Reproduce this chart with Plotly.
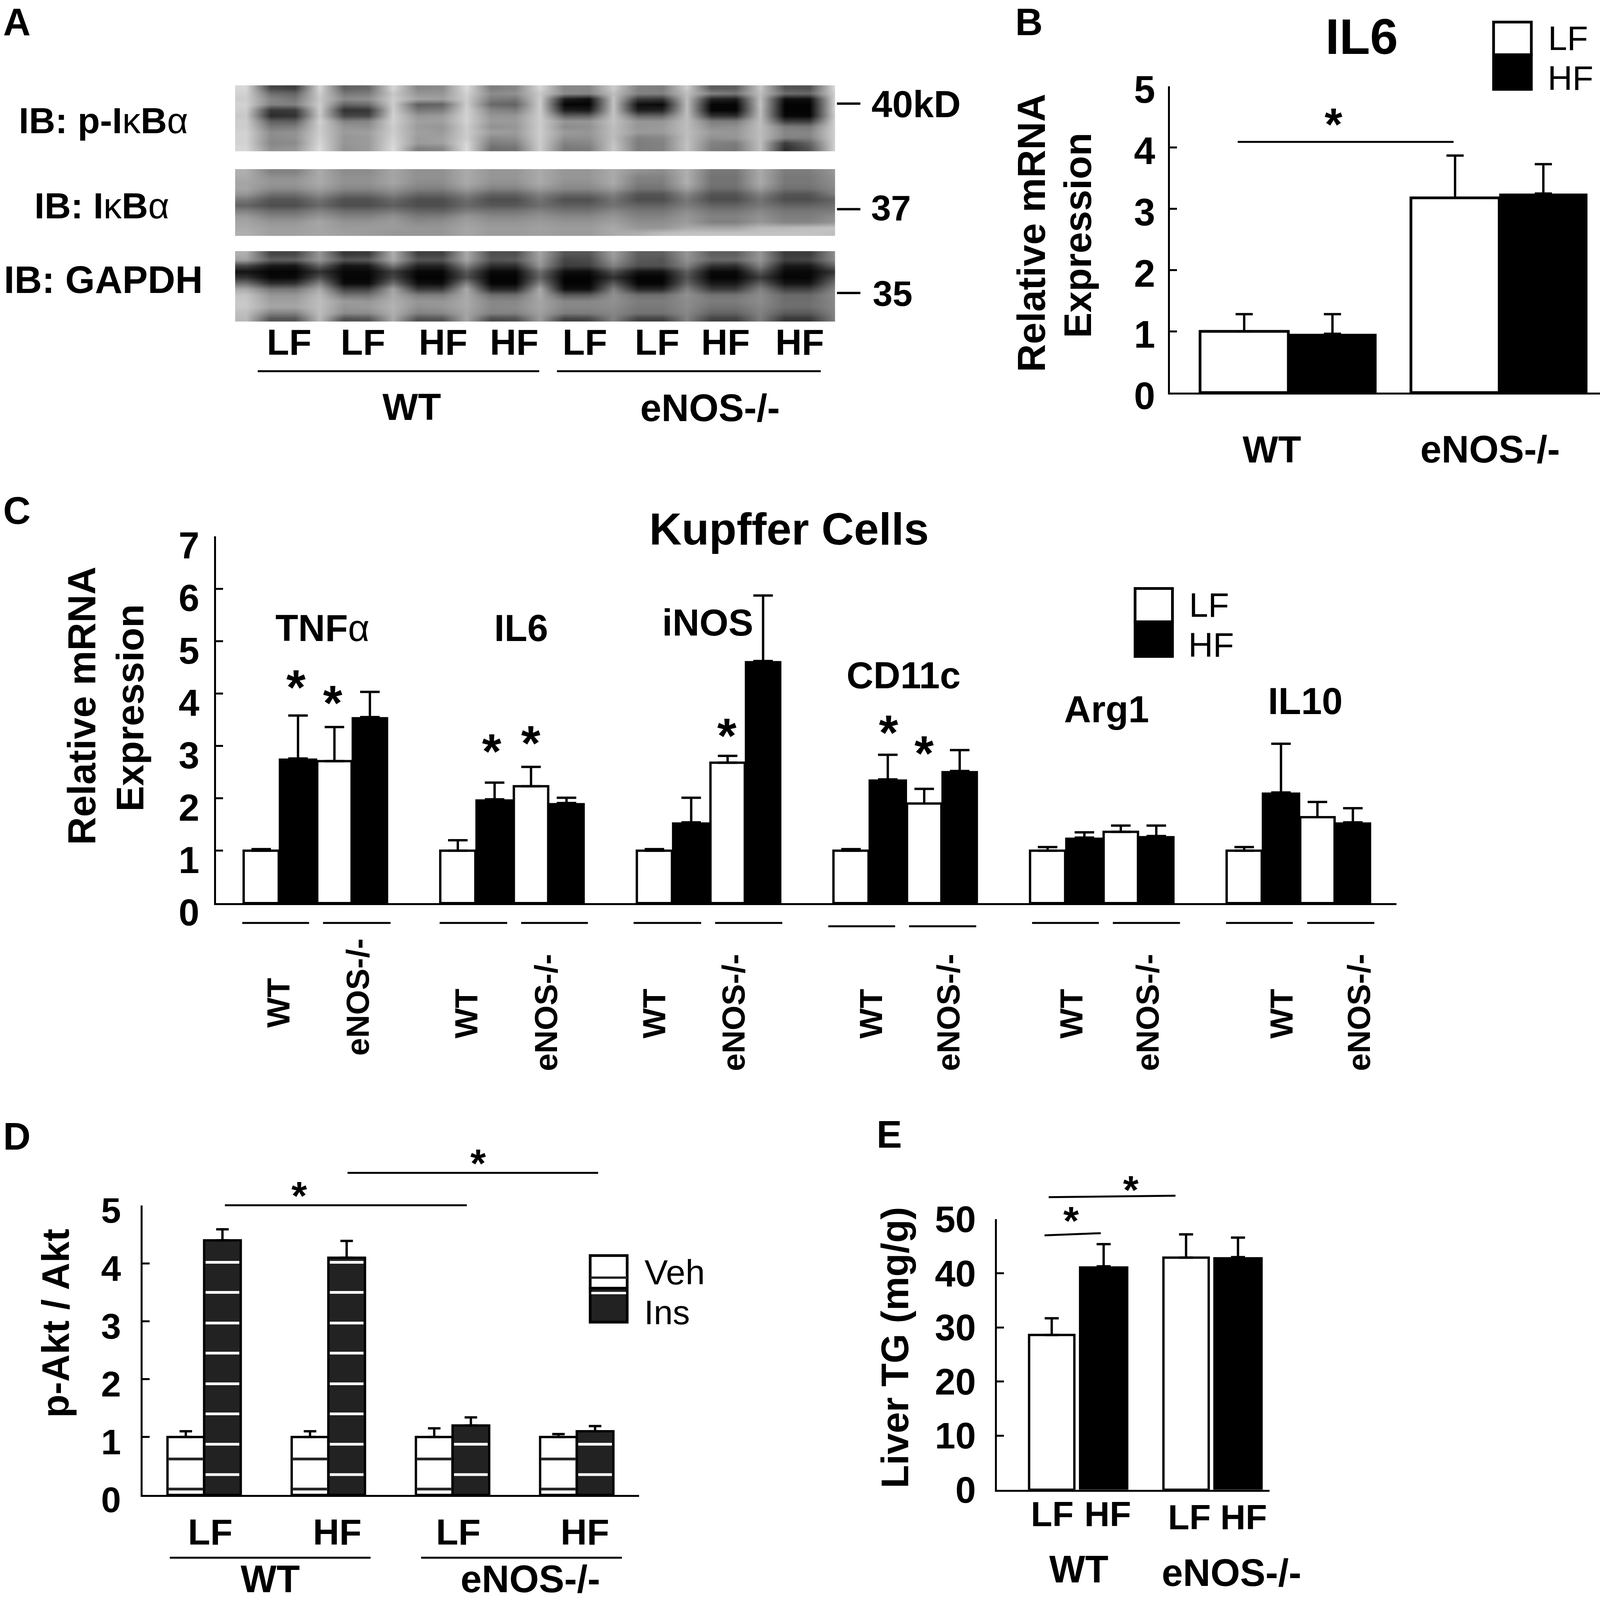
import plotly.graph_objects as go

W, H = 4240, 4353
FONT = "Liberation Sans"
F = 0.975  # text scale

# ---------------- data ----------------
# Panel A: blot grey levels (0 black, 255 white), one row per image band,
# columns are gap, lane, lane, gap ...
blot_pikb = [
 [215,70,60,215,95,105,215,135,140,220,125,135,215,135,135,205,130,125,205,90,95,200,85,80,215],
 [210,110,100,205,120,125,200,150,150,210,140,145,200,140,135,190,130,130,190,130,120,190,110,105,205],
 [205,135,120,200,140,145,205,165,160,205,125,120,205,30,15,195,60,55,190,35,30,190,15,15,205],
 [210,130,130,205,100,110,205,95,100,205,105,100,205,5,5,195,15,10,190,5,5,195,3,3,205],
 [205,55,60,205,50,55,205,120,125,210,135,125,205,30,25,195,30,35,190,5,5,190,3,3,205],
 [200,45,50,200,70,70,210,150,155,210,150,150,205,95,95,195,100,100,190,50,45,190,8,5,200],
 [205,95,95,210,130,135,210,160,160,210,155,155,205,150,150,195,150,150,190,125,125,190,60,60,205],
 [205,120,125,205,150,145,205,155,150,205,145,150,205,140,145,190,150,155,190,140,145,190,125,120,205],
 [210,140,145,205,155,160,205,160,155,205,160,155,205,155,150,190,155,155,190,155,150,190,135,135,205],
 [210,140,145,210,150,155,210,155,160,205,140,145,205,145,145,190,130,135,190,145,150,190,130,130,205],
 [210,135,140,215,150,155,215,155,160,215,125,130,205,130,135,195,125,130,195,130,125,190,60,100,205],
 [215,145,150,220,145,155,220,125,135,220,110,115,205,120,125,200,125,130,195,125,120,190,45,85,205],
]
blot_ikb = [
 [175,130,130,170,140,140,165,145,145,170,150,150,170,150,150,170,145,140,175,120,120,170,125,125,150],
 [170,145,145,170,145,145,165,145,145,170,150,150,170,150,150,170,130,130,175,115,115,170,120,120,145],
 [165,150,150,170,145,145,165,140,140,170,145,145,170,145,145,170,125,125,175,115,115,170,120,120,140],
 [165,140,140,160,135,135,150,128,128,155,130,130,155,135,135,155,115,115,160,108,108,155,112,112,135],
 [150,112,112,140,108,108,130,102,102,130,98,98,130,105,105,130,85,85,135,84,84,130,85,85,125],
 [120,85,85,115,80,80,105,78,78,110,78,78,115,80,80,115,78,78,120,78,78,115,78,78,100],
 [100,78,78,105,78,78,95,78,78,105,88,88,110,95,95,115,100,100,125,100,100,120,100,100,110],
 [130,108,108,130,108,108,120,100,98,125,115,115,130,115,115,135,118,118,140,118,118,135,118,118,125],
 [155,130,130,150,130,130,145,122,125,150,135,135,145,135,135,150,130,130,150,130,130,145,125,125,140],
 [165,150,150,165,148,148,155,138,142,160,148,148,155,148,148,160,142,142,155,128,128,150,132,132,148],
 [170,158,158,165,155,155,155,150,150,165,155,155,160,155,155,170,150,150,170,165,165,185,185,190,195],
 [175,160,160,165,160,155,150,150,150,165,155,155,160,155,155,170,175,190,195,195,195,195,195,195,190],
]
blot_gapdh = [
 [175,70,70,150,55,60,175,65,65,170,80,80,165,85,85,160,95,95,150,95,95,150,60,60,140],
 [160,95,95,150,85,90,170,85,85,165,85,90,160,70,75,150,90,85,145,105,105,150,65,70,135],
 [70,25,20,100,20,25,120,35,35,130,45,45,150,60,65,130,80,80,130,50,45,130,25,25,100],
 [20,5,5,50,8,8,60,8,8,90,10,10,110,15,12,80,20,20,95,10,10,90,10,8,50],
 [50,8,10,80,5,5,70,3,3,80,3,3,100,3,3,50,3,3,85,5,5,60,5,5,80],
 [110,45,50,130,10,10,110,15,12,130,5,5,130,3,3,90,5,5,100,25,25,95,20,20,110],
 [170,120,120,170,65,65,165,60,60,170,40,40,170,15,15,130,40,40,130,60,60,130,65,65,130],
 [195,150,150,185,115,115,170,125,125,170,110,110,170,90,90,145,110,110,145,115,115,140,105,105,140],
 [200,160,160,190,155,150,175,150,150,170,135,135,165,135,135,145,125,125,140,125,125,140,110,110,135],
 [200,165,165,190,150,155,180,145,150,170,135,140,165,135,135,140,120,120,140,115,115,135,110,110,135],
 [190,130,130,190,140,140,175,130,135,165,130,130,160,125,125,135,115,115,135,100,100,130,90,90,130],
 [185,85,85,185,80,85,170,80,85,165,75,80,155,65,70,130,65,65,130,65,65,125,55,55,125],
]
lane_labels = ["LF", "LF", "HF", "HF", "LF", "LF", "HF", "HF"]

# Panel B
b_groups = ["WT", "eNOS-/-"]
b_lf = [1.0, 3.18]
b_lf_err = [0.28, 0.69]
b_hf = [0.96, 3.25]
b_hf_err = [0.32, 0.48]

# Panel C
c_genes = ["TNFα", "IL6", "iNOS", "CD11c", "Arg1", "IL10"]
c_wt_lf = [1.0, 1.0, 1.0, 1.0, 1.0, 1.0]
c_wt_lf_err = [0.03, 0.20, 0.03, 0.03, 0.07, 0.07]
c_wt_hf = [2.76, 1.98, 1.54, 2.36, 1.25, 2.11]
c_wt_hf_err = [0.82, 0.32, 0.47, 0.47, 0.10, 0.93]
c_ko_lf = [2.71, 2.23, 2.68, 1.90, 1.36, 1.64]
c_ko_lf_err = [0.65, 0.37, 0.13, 0.28, 0.12, 0.29]
c_ko_hf = [3.55, 1.91, 4.62, 2.52, 1.28, 1.54]
c_ko_hf_err = [0.48, 0.10, 1.25, 0.40, 0.20, 0.27]

# Panel D
d_groups = ["WT LF", "WT HF", "eNOS LF", "eNOS HF"]
d_veh = [1.0, 1.0, 1.0, 1.0]
d_veh_err = [0.10, 0.10, 0.15, 0.05]
d_ins = [4.40, 4.10, 1.20, 1.10]
d_ins_err = [0.19, 0.29, 0.14, 0.09]
d_ins_stripes = [0.35, 0.875, 1.40, 1.92, 2.45, 2.97, 3.50, 4.02]
d_veh_stripes = [0.10, 0.62]

# Panel E
e_groups = ["WT", "eNOS-/-"]
e_lf = [28.6, 42.9]
e_lf_err = [3.1, 4.3]
e_hf = [41.3, 43.0]
e_hf_err = [4.1, 3.6]

# ---------------- helpers ----------------
def px(x): return x / W
def py(y): return 1 - y / H

fig = go.Figure()
annos, shapes = [], []

def text(x, y, s, size=100, bold=True, angle=0):
    annos.append(dict(x=px(x), y=py(y), xref="paper", yref="paper", text=s, showarrow=False,
                      xanchor="center", yanchor="middle", textangle=angle,
                      font=dict(family=FONT, size=size * F, color="black",
                                weight="bold" if bold else "normal")))

def star(x, y, size=120):
    text(x, y + 0.2 * size, "*", size=size)

def line(x0, y0, x1, y1, w=5, color="black"):
    shapes.append(dict(type="line", xref="paper", yref="paper", x0=px(x0), y0=py(y0), x1=px(x1), y1=py(y1),
                       line=dict(color=color, width=w)))

def rect(x0, y0, x1, y1, fill, lw=7):
    shapes.append(dict(type="rect", xref="paper", yref="paper", x0=px(x0), y0=py(y0), x1=px(x1), y1=py(y1),
                       fillcolor=fill, line=dict(color="black", width=lw)))

def axes(n, xl, xr, yt, yb, xrange, yrange, tickvals=None, shift=0, standoff=0, fsize=100, lw=5):
    suffix = "" if n == 1 else str(n)
    xa = dict(domain=[px(xl), px(xr)], range=xrange, showgrid=False, zeroline=False,
              showticklabels=False, ticks="", showline=tickvals is not None,
              linecolor="black", linewidth=lw, anchor="y" + suffix, fixedrange=True)
    ya = dict(domain=[py(yb), py(yt)], range=yrange, showgrid=False, zeroline=False,
              anchor="x" + suffix, fixedrange=True)
    if tickvals is None:
        ya.update(showticklabels=False, ticks="", showline=False)
    else:
        ya.update(tickmode="array", tickvals=tickvals, ticktext=[str(v) for v in tickvals],
                  ticks="inside", ticklen=18, tickwidth=lw, tickcolor="black",
                  showline=True, linecolor="black", linewidth=lw,
                  ticklabelstandoff=standoff, ticklabelshift=shift,
                  tickfont=dict(family=FONT, size=fsize * F, color="black", weight="bold"))
    fig.layout["xaxis" + suffix] = xa
    fig.layout["yaxis" + suffix] = ya

def bars(n, cats, vals, errs, fill, cap, width, offset, lw=6, thick=6):
    suffix = "" if n == 1 else str(n)
    fig.add_trace(go.Bar(x=cats, y=vals, xaxis="x" + suffix, yaxis="y" + suffix,
                         width=width, offset=offset,
                         marker=dict(color=fill, line=dict(color="black", width=lw)),
                         error_y=dict(type="data", symmetric=False, array=errs,
                                      arrayminus=[0] * len(errs), color="black",
                                      thickness=thick, width=cap),
                         showlegend=False))

# ---------------- Panel A ----------------
GREY = [[0, "#000000"], [1, "#ffffff"]]
blots = [(blot_pikb, 232, 412), (blot_ikb, 460, 642), (blot_gapdh, 683, 875)]
for i, (z, yt, yb) in enumerate(blots):
    n = 5 + i
    axes(n, 623, 2213, yt, yb, [-0.453, 24.05], [11.5, -0.5])
    s = str(n)
    fig.add_trace(go.Heatmap(z=z, xaxis="x" + s, yaxis="y" + s, colorscale=GREY, zmin=0, zmax=255,
                             zsmooth="best", showscale=False, hoverinfo="skip"))

text(44, 60, "A", 100)
text(274, 328, "<b>IB: p-I</b>κ<b>B</b>α", 96, bold=False)
text(270, 560, "<b>IB: I</b>κ<b>B</b>α", 96, bold=False)
text(274, 761, "IB: GAPDH", 100)
text(2427, 284, "40kD", 98)
text(2361, 565, "37", 94)
text(2365, 798, "35", 94)
for y in (282, 569, 797):
    line(2218, y, 2280, y, 6)
for x, lab in zip((766, 962, 1174, 1363, 1550, 1741, 1923, 2119), lane_labels):
    text(x, 930, lab, 96)
line(683, 1010, 1429, 1010, 5)
line(1476, 1010, 2175, 1010, 5)
text(1091, 1107, "WT", 99)
text(1882, 1110, "eNOS-/-", 100)

# ---------------- Panel B ----------------
axes(1, 3100, 4240, 235, 1068, [-0.562, 1.478], [0, 5], tickvals=[0, 1, 2, 3, 4, 5], shift=8, standoff=13, fsize=100)
bars(1, b_groups, b_lf, b_lf_err, "white", 22, 0.4186, -0.4186, lw=7)
bars(1, b_groups, b_hf, b_hf_err, "black", 22, 0.4186, 0.0, lw=0)
text(2727, 60, "B", 100)
text(3609, 99, "IL6", 132)
rect(3958, 60, 4058, 149, "white")
rect(3958, 149, 4058, 243, "black")
text(4155, 104, "LF", 90, bold=False)
text(4162, 213, "HF", 90, bold=False)
text(2733, 634, "Relative mRNA", 102, angle=-90)
text(2856, 640, "Expression", 100, angle=-90)
star(3534, 315, 120)
line(3280, 386, 3852, 386, 5)
text(3370, 1223, "WT", 99)
text(3949, 1223, "eNOS-/-", 100)

# ---------------- Panel C ----------------
axes(2, 572, 3701, 1459, 2457, [-0.509, 5.497], [0, 7], tickvals=[0, 1, 2, 3, 4, 5, 6, 7], shift=24, standoff=18, fsize=98)
bars(2, c_genes, c_wt_lf, c_wt_lf_err, "white", 25, 0.1785, -0.3675)
bars(2, c_genes, c_wt_hf, c_wt_hf_err, "black", 25, 0.1958, -0.189, lw=0)
bars(2, c_genes, c_ko_lf, c_ko_lf_err, "white", 25, 0.1747, 0.0068)
bars(2, c_genes, c_ko_hf, c_ko_hf_err, "black", 25, 0.1862, 0.1815, lw=0)
text(44, 1390, "C", 100)
text(2091, 1439, "Kupffer Cells", 118)
text(855, 1709, "<b>TNF</b>α", 98, bold=False)
text(1381, 1709, c_genes[1], 98)
text(1876, 1694, c_genes[2], 98)
text(2394, 1837, c_genes[3], 98)
text(2933, 1930, c_genes[4], 98)
text(3459, 1908, c_genes[5], 98)
for x, y in ((785, 1843), (882, 1886), (1303, 2018), (1407, 1995), (1926, 1975), (2355, 1967), (2449, 2023)):
    star(x, y, 130)
rect(3008, 1601, 3107, 1692, "white")
rect(3008, 1692, 3107, 1786, "black")
text(3204, 1646, "LF", 90, bold=False)
text(3210, 1755, "HF", 90, bold=False)
text(217, 1920, "Relative mRNA", 102, angle=-90)
text(345, 1926, "Expression", 101, angle=-90)
under = [(642, 819, 2511), (856, 1035, 2511), (1165, 1344, 2511), (1381, 1558, 2511),
         (1679, 1858, 2511), (1895, 2073, 2511), (2195, 2372, 2520), (2409, 2587, 2520),
         (2735, 2912, 2511), (2949, 3127, 2511), (3249, 3426, 2511), (3464, 3642, 2511)]
for x0, x1, y in under:
    line(x0, y, x1, y, 5)
for x, y in ((738, 2728), (1235, 2758), (1733, 2758), (2308, 2758), (2839, 2758), (3396, 2758)):
    text(x, y, "WT", 84, angle=-90)
for x, y in ((948, 2713), (1446, 2755), (1943, 2755), (2513, 2755), (3041, 2755), (3601, 2755)):
    text(x, y, "eNOS-/-", 84, angle=-90)

# ---------------- Panel D ----------------
axes(3, 378, 1693, 3280, 4067, [-0.495, 3.50], [0, 5], tickvals=[0, 1, 2, 3, 4, 5], shift=12, standoff=32, fsize=94)
bars(3, d_groups, d_veh, d_veh_err, "white", 16, 0.295, -0.295)
bars(3, d_groups, d_ins, d_ins_err, "#222222", 16, 0.295, 0.0)
for i, (veh, ins) in enumerate(zip(d_veh, d_ins)):
    for lv in d_ins_stripes:
        if lv < ins:
            shapes.append(dict(type="line", xref="x3", yref="y3", x0=i + 0.012, x1=i + 0.283, y0=lv, y1=lv,
                               line=dict(color="white", width=7)))
    for lv in d_veh_stripes:
        if lv < veh:
            shapes.append(dict(type="line", xref="x3", yref="y3", x0=i - 0.285, x1=i - 0.01, y0=lv, y1=lv,
                               line=dict(color="#222222", width=7)))
text(44, 3092, "D", 100)
text(147, 3600, "p-Akt / Akt", 100, angle=-90)
line(596, 3279, 1237, 3279, 5)
line(921, 3191, 1585, 3191, 5)
star(793, 3231, 105)
star(1267, 3143, 105)
for x, lab in zip((557, 894, 1214, 1550), ("LF", "HF", "LF", "HF")):
    text(x, 4168, lab, 96)
line(450, 4238, 982, 4238, 5)
line(1116, 4238, 1648, 4238, 5)
text(716, 4296, "WT", 100)
text(1406, 4296, "eNOS-/-", 100)
rect(1564, 3416, 1662, 3505, "white")
rect(1564, 3505, 1662, 3597, "#222222")
line(1564, 3476, 1662, 3476, 6, "#222222")
line(1567, 3518, 1659, 3518, 6, "white")
text(1788, 3461, "Veh", 92, bold=False)
text(1768, 3571, "Ins", 90, bold=False)

# ---------------- Panel E ----------------
axes(4, 2642, 3364, 3317, 4053, [-0.593, 1.435], [0, 50], tickvals=[0, 10, 20, 30, 40, 50], standoff=30, fsize=97)
bars(4, e_groups, e_lf, e_lf_err, "white", 18, 0.337, -0.354)
bars(4, e_groups, e_hf, e_hf_err, "black", 18, 0.368, 0.017, lw=0)
text(2357, 3087, "E", 100)
text(2372, 3666, "Liver TG (mg/g)", 100, angle=-90)
star(2838, 3300, 105)
star(2997, 3216, 105)
line(2768, 3361, 2917, 3355, 5)
line(2779, 3257, 3115, 3253, 5)
for x, y, lab in ((2789, 4119, "LF"), (2936, 4119, "HF"), (3152, 4128, "LF"), (3296, 4128, "HF")):
    text(x, y, lab, 92)
text(2859, 4270, "WT", 100)
text(3264, 4279, "eNOS-/-", 100)

fig.update_layout(margin=dict(l=0, r=0, t=0, b=0, pad=0, autoexpand=False),
                  paper_bgcolor="white", plot_bgcolor="white", barmode="group",
                  annotations=annos, shapes=shapes, showlegend=False, autosize=True)
fig.write_html("out.html", default_width="100vw", default_height="100vh",
               config={"responsive": True, "displayModeBar": False},
               post_script="document.body.style.margin='0';document.body.style.overflow='hidden';")
